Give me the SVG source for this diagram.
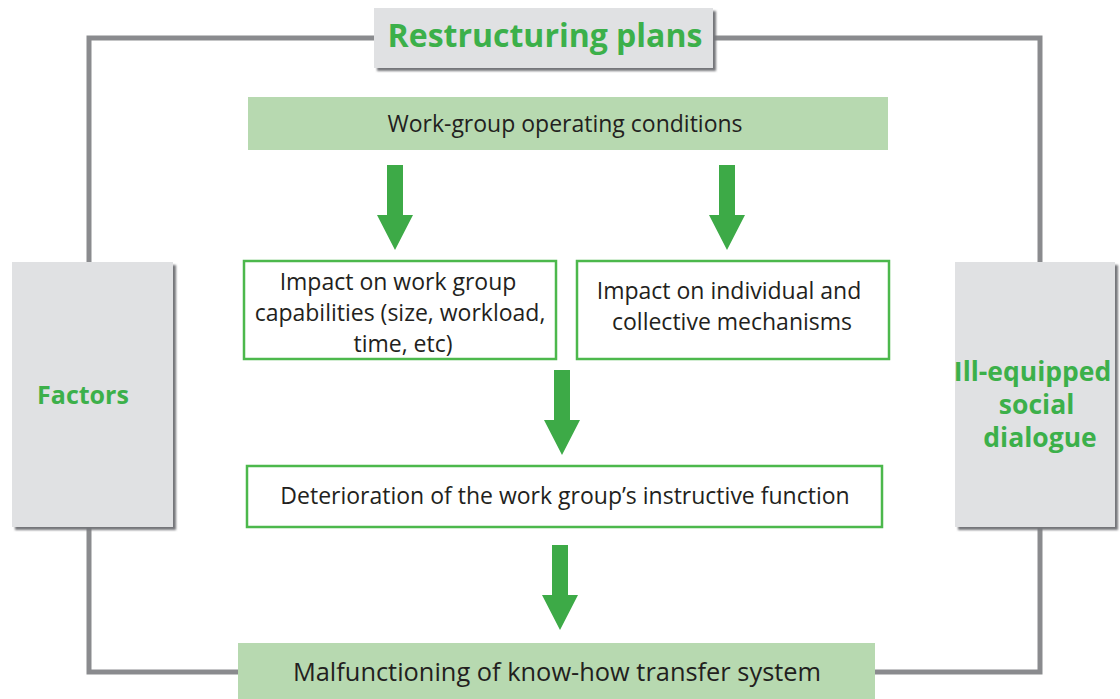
<svg xmlns="http://www.w3.org/2000/svg" width="1120" height="699" viewBox="0 0 1120 699">
  <defs>
    <style>
      .frame { fill: none; stroke: #8a8b8e; stroke-width: 5; }
      .gray { fill: #e0e1e3; }
      .shadow { fill: #75767a; filter: url(#blur); }
      .greenbar { fill: #b7d9b0; }
      .box { fill: #ffffff; stroke: #4cb84c; stroke-width: 2.5; }
      .arrow { fill: #3daa47; }
      .title { font-family: "Open Sans", "Noto Sans", sans-serif; font-weight: bold; fill: #3cb04a; text-anchor: middle; }
      .body { font-family: "Open Sans", "Noto Sans", sans-serif; fill: #231f20; font-size: 23px; text-anchor: middle; }
      .big { font-size: 25.4px; }
    </style>
    <filter id="blur" x="-10%" y="-10%" width="120%" height="120%">
      <feGaussianBlur stdDeviation="1.2"/>
    </filter>
  </defs>
  <rect width="1120" height="699" fill="#ffffff"/>

  <g id="connectors">
    <rect class="frame" x="89" y="38" width="951" height="634"/>
    <path class="arrow" d="M387 165 H403 V215 H413 L395 250 L377 215 H387 Z"/>
    <path class="arrow" d="M719 165 H735 V215 H745 L727 250 L709 215 H719 Z"/>
    <path class="arrow" d="M554 370 H570 V420 H580 L562 455 L544 420 H554 Z"/>
    <path class="arrow" d="M552 545 H568 V595 H578 L560 630 L542 595 H552 Z"/>
  </g>

  <g id="restructuring">
    <rect class="shadow" x="377" y="11" width="339" height="60"/>
    <rect class="gray" x="374" y="8" width="339" height="60"/>
    <text class="title" x="545" y="47" font-size="32">Restructuring plans</text>
  </g>

  <g id="factors">
    <rect class="shadow" x="15" y="265" width="161" height="265"/>
    <rect class="gray" x="12" y="262" width="161" height="265"/>
    <text class="title" x="83" y="404" font-size="25">Factors</text>
  </g>

  <g id="dialogue">
    <rect class="shadow" x="958" y="265" width="160" height="265"/>
    <rect class="gray" x="955" y="262" width="160" height="265"/>
    <text class="title" font-size="26.5">
      <tspan x="1036" y="381">Ill-equipped</tspan>
      <tspan x="1040" y="414">social</tspan>
      <tspan x="1040" y="447">dialogue</tspan>
    </text>
  </g>

  <g id="operating">
    <rect class="greenbar" x="248" y="97" width="640" height="53"/>
    <text class="body" x="565" y="132">Work-group operating conditions</text>
  </g>

  <g id="capabilities">
    <rect class="box" x="244" y="261" width="312" height="98"/>
    <text class="body">
      <tspan x="401" y="290">Impact on work group</tspan>
      <tspan x="403" y="321">capabilities (size, workload,</tspan>
      <tspan x="403" y="352">time, etc)</tspan>
    </text>
  </g>

  <g id="mechanisms">
    <rect class="box" x="577" y="261" width="312" height="98"/>
    <text class="body">
      <tspan x="732" y="299">Impact on individual and</tspan>
      <tspan x="732" y="330">collective mechanisms</tspan>
    </text>
  </g>

  <g id="deterioration">
    <rect class="box" x="247" y="466" width="635" height="61"/>
    <text class="body" x="565" y="504">Deterioration of the work group’s instructive function</text>
  </g>

  <g id="malfunctioning">
    <rect class="greenbar" x="238" y="643" width="637" height="56"/>
    <text class="body big" x="557" y="681">Malfunctioning of know-how transfer system</text>
  </g>
</svg>
